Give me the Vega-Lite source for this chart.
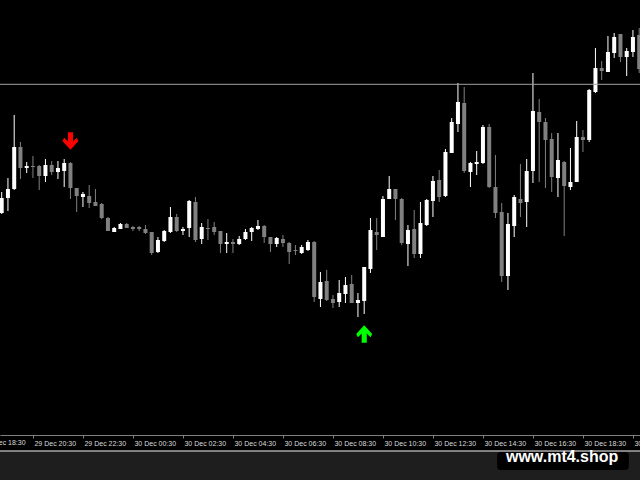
{
  "$schema": "https://vega.github.io/schema/vega-lite/v6.json",
  "width": 640,
  "height": 451,
  "padding": {"left": 0, "top": 0, "right": 0, "bottom": 29},
  "autosize": {"type": "none"},
  "background": "#1e1e1e",
  "config": {"view": {"stroke": null, "fill": "#000000"}},
  "datasets": {
    "candles": [
      {"t":"2020-12-29T19:15","o":1.1287,"h":1.1308,"l":1.1286,"c":1.1302},
      {"t":"2020-12-29T19:30","o":1.1302,"h":1.1322,"l":1.1289,"c":1.1311},
      {"t":"2020-12-29T19:45","o":1.1311,"h":1.1385,"l":1.1310,"c":1.1353},
      {"t":"2020-12-29T20:00","o":1.1353,"h":1.1358,"l":1.1321,"c":1.1332},
      {"t":"2020-12-29T20:15","o":1.1332,"h":1.1338,"l":1.1327,"c":1.1334},
      {"t":"2020-12-29T20:30","o":1.1334,"h":1.1344,"l":1.1322,"c":1.1333},
      {"t":"2020-12-29T20:45","o":1.1334,"h":1.1335,"l":1.1310,"c":1.1324},
      {"t":"2020-12-29T21:00","o":1.1324,"h":1.1341,"l":1.1318,"c":1.1335},
      {"t":"2020-12-29T21:15","o":1.1335,"h":1.1339,"l":1.1325,"c":1.1328},
      {"t":"2020-12-29T21:30","o":1.1328,"h":1.1339,"l":1.1321,"c":1.1332},
      {"t":"2020-12-29T21:45","o":1.1329,"h":1.1341,"l":1.1313,"c":1.1337},
      {"t":"2020-12-29T22:00","o":1.1337,"h":1.1338,"l":1.1301,"c":1.1312},
      {"t":"2020-12-29T22:15","o":1.1312,"h":1.1312,"l":1.1288,"c":1.1304},
      {"t":"2020-12-29T22:30","o":1.1303,"h":1.1308,"l":1.1293,"c":1.1306},
      {"t":"2020-12-29T22:45","o":1.1304,"h":1.1315,"l":1.1292,"c":1.1297},
      {"t":"2020-12-29T23:00","o":1.1298,"h":1.1311,"l":1.1294,"c":1.1294},
      {"t":"2020-12-29T23:15","o":1.1296,"h":1.1297,"l":1.1281,"c":1.1282},
      {"t":"2020-12-29T23:30","o":1.1282,"h":1.1283,"l":1.1269,"c":1.1269},
      {"t":"2020-12-29T23:45","o":1.1268,"h":1.1273,"l":1.1268,"c":1.1272},
      {"t":"2020-12-30T00:00","o":1.1271,"h":1.1277,"l":1.1271,"c":1.1276},
      {"t":"2020-12-30T00:15","o":1.1276,"h":1.1277,"l":1.1272,"c":1.1272},
      {"t":"2020-12-30T00:30","o":1.1273,"h":1.1274,"l":1.1269,"c":1.1271},
      {"t":"2020-12-30T00:45","o":1.1273,"h":1.1274,"l":1.1269,"c":1.1271},
      {"t":"2020-12-30T01:00","o":1.1271,"h":1.1275,"l":1.1266,"c":1.1267},
      {"t":"2020-12-30T01:15","o":1.1268,"h":1.1268,"l":1.1245,"c":1.1247},
      {"t":"2020-12-30T01:30","o":1.1248,"h":1.1263,"l":1.1247,"c":1.1260},
      {"t":"2020-12-30T01:45","o":1.1259,"h":1.1270,"l":1.1258,"c":1.1269},
      {"t":"2020-12-30T02:00","o":1.1268,"h":1.1293,"l":1.1267,"c":1.1283},
      {"t":"2020-12-30T02:15","o":1.1283,"h":1.1286,"l":1.1268,"c":1.1269},
      {"t":"2020-12-30T02:30","o":1.1269,"h":1.1273,"l":1.1265,"c":1.1271},
      {"t":"2020-12-30T02:45","o":1.1272,"h":1.1300,"l":1.1263,"c":1.1299},
      {"t":"2020-12-30T03:00","o":1.1298,"h":1.1303,"l":1.1258,"c":1.1260},
      {"t":"2020-12-30T03:15","o":1.1261,"h":1.1277,"l":1.1256,"c":1.1273},
      {"t":"2020-12-30T03:30","o":1.1272,"h":1.1281,"l":1.1260,"c":1.1271},
      {"t":"2020-12-30T03:45","o":1.1273,"h":1.1278,"l":1.1265,"c":1.1268},
      {"t":"2020-12-30T04:00","o":1.1269,"h":1.1269,"l":1.1247,"c":1.1256},
      {"t":"2020-12-30T04:15","o":1.1256,"h":1.1267,"l":1.1247,"c":1.1258},
      {"t":"2020-12-30T04:30","o":1.1258,"h":1.1261,"l":1.1247,"c":1.1256},
      {"t":"2020-12-30T04:45","o":1.1256,"h":1.1264,"l":1.1255,"c":1.1261},
      {"t":"2020-12-30T05:00","o":1.1261,"h":1.1271,"l":1.1260,"c":1.1268},
      {"t":"2020-12-30T05:15","o":1.1268,"h":1.1273,"l":1.1259,"c":1.1272},
      {"t":"2020-12-30T05:30","o":1.1271,"h":1.1280,"l":1.1270,"c":1.1274},
      {"t":"2020-12-30T05:45","o":1.1274,"h":1.1275,"l":1.1257,"c":1.1263},
      {"t":"2020-12-30T06:00","o":1.1263,"h":1.1263,"l":1.1248,"c":1.1256},
      {"t":"2020-12-30T06:15","o":1.1256,"h":1.1263,"l":1.1253,"c":1.1262},
      {"t":"2020-12-30T06:30","o":1.1261,"h":1.1265,"l":1.1253,"c":1.1257},
      {"t":"2020-12-30T06:45","o":1.1257,"h":1.1258,"l":1.1236,"c":1.1248},
      {"t":"2020-12-30T07:00","o":1.1250,"h":1.1255,"l":1.1245,"c":1.1249},
      {"t":"2020-12-30T07:15","o":1.1247,"h":1.1255,"l":1.1246,"c":1.1253},
      {"t":"2020-12-30T07:30","o":1.1250,"h":1.1260,"l":1.1249,"c":1.1258},
      {"t":"2020-12-30T07:45","o":1.1258,"h":1.1259,"l":1.1198,"c":1.1203},
      {"t":"2020-12-30T08:00","o":1.1201,"h":1.1228,"l":1.1193,"c":1.1218},
      {"t":"2020-12-30T08:15","o":1.1219,"h":1.1230,"l":1.1199,"c":1.1200},
      {"t":"2020-12-30T08:30","o":1.1201,"h":1.1205,"l":1.1192,"c":1.1197},
      {"t":"2020-12-30T08:45","o":1.1198,"h":1.1220,"l":1.1193,"c":1.1207},
      {"t":"2020-12-30T09:00","o":1.1206,"h":1.1223,"l":1.1197,"c":1.1215},
      {"t":"2020-12-30T09:15","o":1.1216,"h":1.1225,"l":1.1197,"c":1.1197},
      {"t":"2020-12-30T09:30","o":1.1197,"h":1.1207,"l":1.1183,"c":1.1200},
      {"t":"2020-12-30T09:45","o":1.1199,"h":1.1233,"l":1.1186,"c":1.1233},
      {"t":"2020-12-30T10:00","o":1.1231,"h":1.1282,"l":1.1227,"c":1.1270},
      {"t":"2020-12-30T10:15","o":1.1268,"h":1.1282,"l":1.1250,"c":1.1265},
      {"t":"2020-12-30T10:30","o":1.1263,"h":1.1304,"l":1.1263,"c":1.1301},
      {"t":"2020-12-30T10:45","o":1.1301,"h":1.1324,"l":1.1301,"c":1.1311},
      {"t":"2020-12-30T11:00","o":1.1311,"h":1.1311,"l":1.1280,"c":1.1301},
      {"t":"2020-12-30T11:15","o":1.1301,"h":1.1302,"l":1.1255,"c":1.1257},
      {"t":"2020-12-30T11:30","o":1.1256,"h":1.1275,"l":1.1234,"c":1.1270},
      {"t":"2020-12-30T11:45","o":1.1271,"h":1.1290,"l":1.1242,"c":1.1246},
      {"t":"2020-12-30T12:00","o":1.1246,"h":1.1298,"l":1.1242,"c":1.1277},
      {"t":"2020-12-30T12:15","o":1.1275,"h":1.1301,"l":1.1274,"c":1.1300},
      {"t":"2020-12-30T12:30","o":1.1299,"h":1.1324,"l":1.1283,"c":1.1319},
      {"t":"2020-12-30T12:45","o":1.1320,"h":1.1330,"l":1.1298,"c":1.1303},
      {"t":"2020-12-30T13:00","o":1.1304,"h":1.1351,"l":1.1303,"c":1.1348},
      {"t":"2020-12-30T13:15","o":1.1347,"h":1.1382,"l":1.1347,"c":1.1378},
      {"t":"2020-12-30T13:30","o":1.1376,"h":1.1417,"l":1.1368,"c":1.1398},
      {"t":"2020-12-30T13:45","o":1.1397,"h":1.1413,"l":1.1327,"c":1.1329},
      {"t":"2020-12-30T14:00","o":1.1328,"h":1.1338,"l":1.1313,"c":1.1337},
      {"t":"2020-12-30T14:15","o":1.1336,"h":1.1349,"l":1.1325,"c":1.1338},
      {"t":"2020-12-30T14:30","o":1.1337,"h":1.1375,"l":1.1336,"c":1.1373},
      {"t":"2020-12-30T14:45","o":1.1373,"h":1.1376,"l":1.1312,"c":1.1313},
      {"t":"2020-12-30T15:00","o":1.1313,"h":1.1345,"l":1.1282,"c":1.1287},
      {"t":"2020-12-30T15:15","o":1.1288,"h":1.1297,"l":1.1218,"c":1.1224},
      {"t":"2020-12-30T15:30","o":1.1224,"h":1.1287,"l":1.1210,"c":1.1276},
      {"t":"2020-12-30T15:45","o":1.1274,"h":1.1305,"l":1.1263,"c":1.1303},
      {"t":"2020-12-30T16:00","o":1.1301,"h":1.1336,"l":1.1283,"c":1.1297},
      {"t":"2020-12-30T16:15","o":1.1298,"h":1.1341,"l":1.1273,"c":1.1329},
      {"t":"2020-12-30T16:30","o":1.1329,"h":1.1427,"l":1.1317,"c":1.1389},
      {"t":"2020-12-30T16:45","o":1.1388,"h":1.1401,"l":1.1318,"c":1.1378},
      {"t":"2020-12-30T17:00","o":1.1378,"h":1.1382,"l":1.1312,"c":1.1360},
      {"t":"2020-12-30T17:15","o":1.1361,"h":1.1367,"l":1.1308,"c":1.1323},
      {"t":"2020-12-30T17:30","o":1.1322,"h":1.1367,"l":1.1303,"c":1.1340},
      {"t":"2020-12-30T17:45","o":1.1338,"h":1.1339,"l":1.1264,"c":1.1314},
      {"t":"2020-12-30T18:00","o":1.1313,"h":1.1352,"l":1.1310,"c":1.1318},
      {"t":"2020-12-30T18:15","o":1.1318,"h":1.1379,"l":1.1318,"c":1.1363},
      {"t":"2020-12-30T18:30","o":1.1363,"h":1.1370,"l":1.1348,"c":1.1360},
      {"t":"2020-12-30T18:45","o":1.1360,"h":1.1411,"l":1.1358,"c":1.1410},
      {"t":"2020-12-30T19:00","o":1.1408,"h":1.1452,"l":1.1407,"c":1.1432},
      {"t":"2020-12-30T19:15","o":1.1432,"h":1.1439,"l":1.1420,"c":1.1429},
      {"t":"2020-12-30T19:30","o":1.1428,"h":1.1464,"l":1.1428,"c":1.1448},
      {"t":"2020-12-30T19:45","o":1.1447,"h":1.1467,"l":1.1442,"c":1.1463},
      {"t":"2020-12-30T20:00","o":1.1466,"h":1.1466,"l":1.1438,"c":1.1443},
      {"t":"2020-12-30T20:15","o":1.1443,"h":1.1452,"l":1.1424,"c":1.1449},
      {"t":"2020-12-30T20:30","o":1.1448,"h":1.1470,"l":1.1443,"c":1.1463},
      {"t":"2020-12-30T20:45","o":1.1465,"h":1.1472,"l":1.1427,"c":1.1431}
    ],
    "arrows": [
      {"t":"2020-12-29T22:00","p":1.1359,"signal":"sell"},
      {"t":"2020-12-30T09:45","p":1.1166,"signal":"buy"}
    ]
  },
  "layer": [
    {
      "data": {"name": "candles"},
      "mark": {"type": "rule", "strokeWidth": 1},
      "encoding": {
        "x": {
          "field": "t", "type": "temporal", "title": null,
          "scale": {"padding": 0, "nice": false, "domain": [
            {"year": 2020, "month": 12, "date": 29, "hours": 19, "minutes": 10, "seconds": 55},
            {"year": 2020, "month": 12, "date": 30, "hours": 20, "minutes": 46, "seconds": 55}
          ]},
          "axis": {
            "orient": "bottom", "offset": -16,
            "values": [
              {"year": 2020, "month": 12, "date": 29, "hours": 20, "minutes": 30},
              {"year": 2020, "month": 12, "date": 29, "hours": 22, "minutes": 30},
              {"year": 2020, "month": 12, "date": 30, "hours": 0, "minutes": 30},
              {"year": 2020, "month": 12, "date": 30, "hours": 2, "minutes": 30},
              {"year": 2020, "month": 12, "date": 30, "hours": 4, "minutes": 30},
              {"year": 2020, "month": 12, "date": 30, "hours": 6, "minutes": 30},
              {"year": 2020, "month": 12, "date": 30, "hours": 8, "minutes": 30},
              {"year": 2020, "month": 12, "date": 30, "hours": 10, "minutes": 30},
              {"year": 2020, "month": 12, "date": 30, "hours": 12, "minutes": 30},
              {"year": 2020, "month": 12, "date": 30, "hours": 14, "minutes": 30},
              {"year": 2020, "month": 12, "date": 30, "hours": 16, "minutes": 30},
              {"year": 2020, "month": 12, "date": 30, "hours": 18, "minutes": 30},
              {"year": 2020, "month": 12, "date": 30, "hours": 20, "minutes": 30}
            ],
            "format": "%d %b %H:%M",
            "grid": false,
            "domainColor": "#808080", "domainWidth": 1,
            "tickColor": "#808080", "tickSize": 3, "tickWidth": 1,
            "labelAlign": "left", "labelBaseline": "top", "labelPadding": 1, "labelOffset": 1,
            "labelFont": "Liberation Sans", "labelFontSize": 7, "labelColor": "#dcdcdc",
            "labelFlush": false, "labelOverlap": false, "labelBound": false
          }
        },
        "y": {"field": "h", "type": "quantitative", "scale": {"domain": [1.1049, 1.15], "zero": false, "nice": false}, "axis": null},
        "y2": {"field": "l"},
        "color": {"condition": {"test": "datum.c >= datum.o", "value": "#ffffff"}, "value": "#808080"}
      }
    },
    {
      "data": {"name": "candles"},
      "mark": {"type": "bar", "size": 4},
      "encoding": {
        "x": {"field": "t", "type": "temporal", "title": null},
        "y": {"field": "o", "type": "quantitative", "axis": null},
        "y2": {"field": "c"},
        "color": {"condition": {"test": "datum.c >= datum.o", "value": "#ffffff"}, "value": "#808080"}
      }
    },
    {
      "data": {"values": [{}]},
      "mark": {"type": "rule", "color": "#a0a0a0", "strokeWidth": 1},
      "encoding": {"y": {"datum": 1.14157, "type": "quantitative", "axis": null}}
    },
    {
      "data": {"name": "arrows"},
      "mark": {"type": "point", "filled": true, "opacity": 1, "strokeWidth": 0, "size": 256},
      "encoding": {
        "x": {"field": "t", "type": "temporal", "title": null},
        "y": {"field": "p", "type": "quantitative", "axis": null},
        "shape": {"field": "signal", "type": "nominal", "legend": null,
          "scale": {"domain": ["sell", "buy"], "range": [
            "M-0.32,-1.1L0.32,-1.1L0.32,0.05L0.78,-0.4L1,0L0,1.1L-1,0L-0.78,-0.4L-0.32,0.05Z",
            "M-0.32,1.1L0.32,1.1L0.32,-0.05L0.78,0.4L1,0L0,-1.1L-1,0L-0.78,0.4L-0.32,-0.05Z"
          ]}},
        "color": {"field": "signal", "type": "nominal", "legend": null,
          "scale": {"domain": ["sell", "buy"], "range": ["#ff0000", "#00ff00"]}}
      }
    },
    {
      "data": {"values": [{}]},
      "mark": {"type": "text", "text": "29 Dec 18:30", "font": "Liberation Sans", "fontSize": 7, "color": "#dcdcdc", "align": "left", "baseline": "top", "dx": 1},
      "encoding": {
        "x": {"datum": {"year": 2020, "month": 12, "date": 29, "hours": 18, "minutes": 30}, "type": "temporal", "title": null},
        "y": {"datum": 1.1061, "type": "quantitative", "axis": null}
      }
    },
    {
      "data": {"values": [{}]},
      "mark": {"type": "rect", "color": "#000000", "cornerRadius": 3},
      "encoding": {
        "x": {"datum": {"year": 2020, "month": 12, "date": 30, "hours": 15, "minutes": 4}, "type": "temporal", "title": null},
        "x2": {"datum": {"year": 2020, "month": 12, "date": 30, "hours": 20, "minutes": 20}},
        "y": {"datum": 1.1048, "type": "quantitative", "axis": null},
        "y2": {"datum": 1.1030}
      }
    },
    {
      "data": {"values": [{}]},
      "mark": {"type": "rule", "color": "#a8a8a8", "strokeWidth": 1.5},
      "encoding": {"y": {"datum": 1.1049, "type": "quantitative", "axis": null}}
    },
    {
      "data": {"values": [{}]},
      "mark": {"type": "text", "text": "www.mt4.shop", "font": "Liberation Sans", "fontSize": 16, "fontWeight": "bold", "color": "#ffffff", "align": "center", "baseline": "alphabetic"},
      "encoding": {
        "x": {"datum": {"year": 2020, "month": 12, "date": 30, "hours": 17, "minutes": 40}, "type": "temporal", "title": null},
        "y": {"datum": 1.10383, "type": "quantitative", "axis": null}
      }
    }
  ]
}
